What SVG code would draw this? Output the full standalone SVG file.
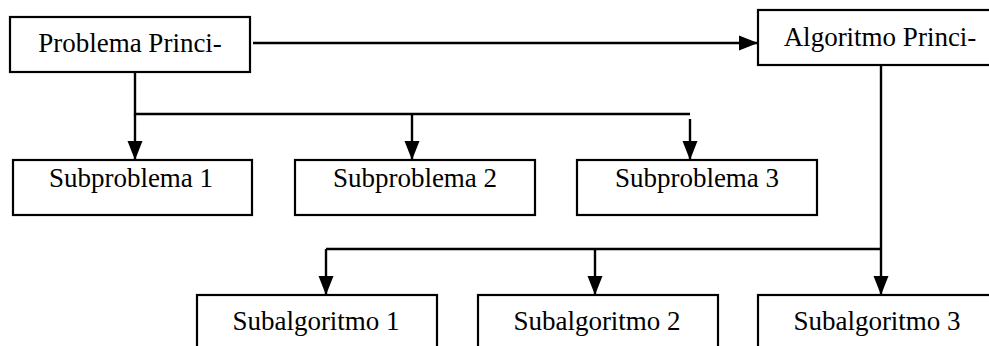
<svg xmlns="http://www.w3.org/2000/svg" width="989" height="346" viewBox="0 0 989 346">
  <style>
    .box { fill: #ffffff; stroke: #000000; stroke-width: 2.2; }
    .label { font-family: "Liberation Serif", "Times New Roman", serif; font-size: 27px; fill: #000000; text-anchor: middle; }
    .wire { fill: none; stroke: #000000; stroke-width: 2.4; }
    .arrow { fill: none; stroke: #000000; stroke-width: 2.4; marker-end: url(#head); }
  </style>
  <defs>
    <marker id="head" markerUnits="userSpaceOnUse" markerWidth="19" markerHeight="16" viewBox="0 0 19 16" refX="19" refY="8" orient="auto">
      <path d="M0,0.5 L19,8 L0,15.5 Z" fill="#000000"/>
    </marker>
  </defs>
  <rect width="989" height="346" fill="#ffffff"/>

  <!-- connectors -->
  <g id="connectors">
    <!-- main problem to main algorithm -->
    <line class="arrow" x1="253" y1="43" x2="758" y2="43"/>
    <!-- problem decomposition -->
    <polyline class="wire" points="135,72 135,114 690,114"/>
    <line class="arrow" x1="135" y1="114" x2="135" y2="160"/>
    <line class="arrow" x1="412" y1="114" x2="412" y2="160"/>
    <line class="arrow" x1="690" y1="119" x2="690" y2="160"/>
    <!-- algorithm decomposition -->
    <line class="arrow" x1="881" y1="65" x2="881" y2="295"/>
    <polyline class="wire" points="881,249 326,249"/>
    <line class="arrow" x1="326" y1="249" x2="326" y2="295"/>
    <line class="arrow" x1="595" y1="249" x2="595" y2="295"/>
  </g>

  <g id="problema-principal">
    <rect class="box" x="10" y="17" width="240" height="55"/>
    <text class="label" x="130" y="52">Problema Princi-</text>
  </g>
  <g id="algoritmo-principal">
    <rect class="box" x="758" y="10" width="244" height="55"/>
    <text class="label" x="880" y="46">Algoritmo Princi-</text>
  </g>

  <g id="subproblema-1">
    <rect class="box" x="13" y="160" width="239" height="55"/>
    <text class="label" x="131" y="187">Subproblema 1</text>
  </g>
  <g id="subproblema-2">
    <rect class="box" x="295" y="160" width="240" height="55"/>
    <text class="label" x="415" y="187">Subproblema 2</text>
  </g>
  <g id="subproblema-3">
    <rect class="box" x="577" y="160" width="240" height="55"/>
    <text class="label" x="697" y="187">Subproblema 3</text>
  </g>

  <g id="subalgoritmo-1">
    <rect class="box" x="197" y="295" width="240" height="60"/>
    <text class="label" x="316" y="330">Subalgoritmo 1</text>
  </g>
  <g id="subalgoritmo-2">
    <rect class="box" x="478" y="295" width="240" height="60"/>
    <text class="label" x="597" y="330">Subalgoritmo 2</text>
  </g>
  <g id="subalgoritmo-3">
    <rect class="box" x="758" y="295" width="240" height="60"/>
    <text class="label" x="877" y="330">Subalgoritmo 3</text>
  </g>
</svg>
